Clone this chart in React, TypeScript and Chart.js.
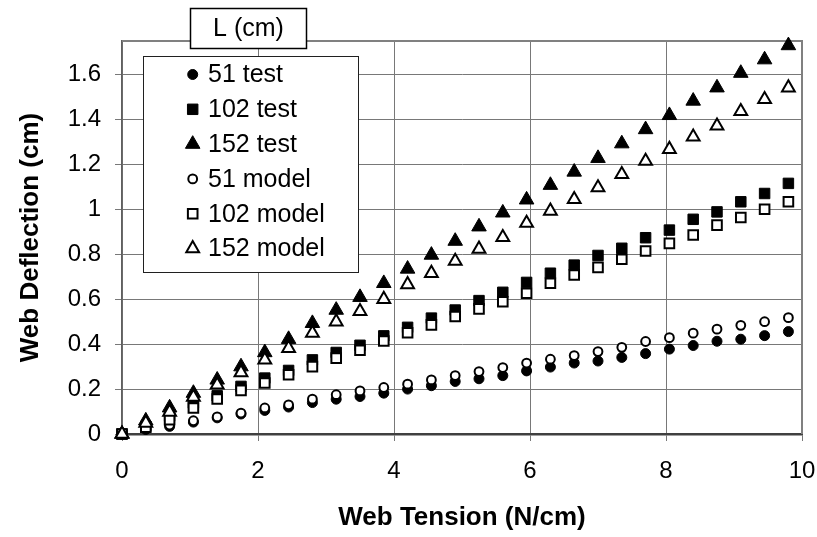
import React, { useEffect, useRef } from 'react';
import { Chart, registerables } from 'chart.js';

Chart.register(...registerables);

// Web tension (N/cm) at each measurement step
const tension = [
  0, 0.35, 0.7, 1.05, 1.4, 1.75, 2.1, 2.45, 2.8, 3.15, 3.5, 3.85, 4.2, 4.55, 4.9,
  5.25, 5.6, 5.95, 6.3, 6.65, 7.0, 7.35, 7.7, 8.05, 8.4, 8.75, 9.1, 9.45, 9.8,
];

// Web deflection (cm), measured
const test51 = [
  0, 0.02, 0.034, 0.053, 0.072, 0.089, 0.105, 0.12, 0.14, 0.155, 0.167, 0.182, 0.2, 0.215, 0.234,
  0.246, 0.26, 0.281, 0.298, 0.316, 0.325, 0.341, 0.358, 0.378, 0.394, 0.413, 0.422, 0.438, 0.456,
];
const test102 = [
  0, 0.034, 0.08, 0.138, 0.17, 0.212, 0.249, 0.283, 0.33, 0.363, 0.395, 0.437, 0.475, 0.516, 0.552,
  0.594, 0.631, 0.675, 0.716, 0.752, 0.795, 0.827, 0.874, 0.908, 0.956, 0.989, 1.034, 1.071, 1.116,
];
const test152 = [
  0, 0.059, 0.117, 0.182, 0.241, 0.3, 0.363, 0.422, 0.493, 0.552, 0.609, 0.671, 0.735, 0.797, 0.859,
  0.923, 0.985, 1.043, 1.108, 1.167, 1.228, 1.293, 1.356, 1.419, 1.483, 1.542, 1.607, 1.667, 1.73,
];

// Web deflection (cm), model
const model51 = [
  0, 0.025, 0.04, 0.059, 0.076, 0.093, 0.116, 0.13, 0.155, 0.175, 0.192, 0.207, 0.222, 0.241, 0.26,
  0.278, 0.296, 0.316, 0.333, 0.349, 0.367, 0.386, 0.412, 0.429, 0.449, 0.467, 0.484, 0.5, 0.518,
];
const model102 = [
  0, 0.03, 0.064, 0.116, 0.156, 0.194, 0.227, 0.264, 0.3, 0.338, 0.373, 0.414, 0.451, 0.486, 0.523,
  0.557, 0.589, 0.627, 0.671, 0.708, 0.742, 0.778, 0.815, 0.849, 0.886, 0.93, 0.964, 1.001, 1.034,
];
const model152 = [
  0, 0.049, 0.098, 0.164, 0.219, 0.274, 0.33, 0.382, 0.449, 0.5, 0.546, 0.6, 0.666, 0.716, 0.77,
  0.824, 0.876, 0.939, 0.993, 1.045, 1.097, 1.156, 1.215, 1.268, 1.323, 1.372, 1.437, 1.49, 1.542,
];

const xTicks = [0, 2, 4, 6, 8, 10];
const yTicks = [0, 0.2, 0.4, 0.6, 0.8, 1, 1.2, 1.4, 1.6];

const seriesLabels = ['51 test', '102 test', '152 test', '51 model', '102 model', '152 model'];
const legendTitle = 'L (cm)';
const xTitle = 'Web Tension (N/cm)';
const yTitle = 'Web Deflection (cm)';

const FONT = "'Liberation Sans', Arial, sans-serif";

type Marker = { style: 'circle' | 'rect' | 'triangle'; filled: boolean; radius: number };

const markers: Marker[] = [
  { style: 'circle', filled: true, radius: 5 },
  { style: 'rect', filled: true, radius: 7.4 },
  { style: 'triangle', filled: true, radius: 8.4 },
  { style: 'circle', filled: false, radius: 4.4 },
  { style: 'rect', filled: false, radius: 6.8 },
  { style: 'triangle', filled: false, radius: 7.4 },
];

const seriesValues = [test51, test102, test152, model51, model102, model152];

function drawMarker(ctx: CanvasRenderingContext2D, m: Marker, x: number, y: number) {
  ctx.save();
  ctx.beginPath();
  const r = m.radius;
  if (m.style === 'circle') {
    ctx.arc(x, y, r, 0, Math.PI * 2);
  } else if (m.style === 'rect') {
    const s = Math.SQRT1_2 * r;
    ctx.rect(x - s, y - s, 2 * s, 2 * s);
  } else {
    let a = 0;
    ctx.moveTo(x + Math.sin(a) * r, y - Math.cos(a) * r);
    a += (2 * Math.PI) / 3;
    ctx.lineTo(x + Math.sin(a) * r, y - Math.cos(a) * r);
    a += (2 * Math.PI) / 3;
    ctx.lineTo(x + Math.sin(a) * r, y - Math.cos(a) * r);
    ctx.closePath();
  }
  ctx.fillStyle = m.filled ? '#000' : '#fff';
  ctx.fill();
  ctx.strokeStyle = '#000';
  ctx.lineWidth = m.filled ? 1 : 2;
  ctx.stroke();
  ctx.restore();
}

const frameAndLegend = {
  id: 'frameAndLegend',
  beforeDatasetsDraw(chart: any) {
    const { ctx, chartArea: a } = chart;
    ctx.save();
    ctx.strokeStyle = '#808080';
    ctx.lineWidth = 2;
    ctx.beginPath();
    ctx.moveTo(a.left, a.top);
    ctx.lineTo(a.right, a.top);
    ctx.lineTo(a.right, a.bottom);
    ctx.stroke();
    ctx.restore();
  },
  afterDraw(chart: any) {
    const { ctx } = chart;
    ctx.save();
    // legend panel
    ctx.fillStyle = '#fff';
    ctx.fillRect(143.5, 56.5, 215, 216);
    ctx.strokeStyle = '#202020';
    ctx.lineWidth = 1;
    ctx.strokeRect(143.5, 56.5, 215, 216);
    // legend heading box
    ctx.fillRect(190.5, 8.5, 116, 40);
    ctx.strokeStyle = '#000';
    ctx.lineWidth = 1.5;
    ctx.strokeRect(190.5, 8.5, 116, 40);
    ctx.fillStyle = '#000';
    ctx.font = `25px ${FONT}`;
    ctx.textBaseline = 'middle';
    ctx.textAlign = 'center';
    ctx.fillText(legendTitle, 248.5, 29);
    ctx.textAlign = 'left';
    seriesLabels.forEach((label, i) => {
      const y = 74.5 + 34.8 * i;
      drawMarker(ctx, markers[i], 192.7, y);
      ctx.fillStyle = '#000';
      ctx.fillText(label, 208, y + 1);
    });
    ctx.restore();
  },
};

export default function App() {
  const ref = useRef<HTMLCanvasElement>(null);

  useEffect(() => {
    if (!ref.current) return;
    Chart.defaults.font.family = FONT;
    const datasets = seriesValues.map((vals, i) => {
      const m = markers[i];
      return {
        label: seriesLabels[i],
        data: tension.map((x, j) => ({ x, y: vals[j] })),
        showLine: false,
        clip: false,
        pointStyle: m.style,
        pointRadius: m.radius,
        pointHoverRadius: m.radius,
        pointBackgroundColor: m.filled ? '#000' : '#fff',
        pointBorderColor: '#000',
        pointBorderWidth: m.filled ? 1 : 2,
        // later series sit on top
        order: seriesValues.length - 1 - i,
      };
    });

    const chart = new Chart(ref.current, {
      type: 'scatter',
      data: { datasets },
      plugins: [frameAndLegend],
      options: {
        responsive: false,
        animation: false,
        layout: { padding: { top: 41, right: 15, left: 0, bottom: 0 } },
        plugins: { legend: { display: false }, tooltip: { enabled: false } },
        scales: {
          x: {
            type: 'linear',
            min: 0,
            max: 10,
            afterBuildTicks: (s: any) => {
              s.ticks = xTicks.map((v) => ({ value: v }));
            },
            afterFit: (s: any) => {
              s.height = 103;
              s.paddingLeft = 0;
              s.paddingRight = 0;
            },
            ticks: {
              color: '#000',
              font: { size: 24, family: FONT },
              padding: 16,
              maxRotation: 0,
              autoSkip: false,
              callback: (v: any) => String(+Number(v).toFixed(1)),
            },
            grid: { color: '#787878', lineWidth: 1, tickLength: 7 },
            border: { color: '#404040', width: 2.5 },
            title: {
              display: true,
              text: xTitle,
              color: '#000',
              font: { size: 26, weight: 'bold', family: FONT },
              padding: { top: 0, bottom: 4 },
            },
          },
          y: {
            type: 'linear',
            min: 0,
            max: 1.75,
            afterBuildTicks: (s: any) => {
              s.ticks = yTicks.map((v) => ({ value: v }));
            },
            afterFit: (s: any) => {
              s.width = 122;
              s.paddingTop = 0;
              s.paddingBottom = 0;
            },
            ticks: {
              color: '#000',
              font: { size: 24, family: FONT },
              padding: 14,
              autoSkip: false,
              callback: (v: any) => String(+Number(v).toFixed(1)),
            },
            grid: { color: '#787878', lineWidth: 1, tickLength: 7 },
            border: { color: '#606060', width: 1.5 },
            title: {
              display: true,
              text: yTitle,
              color: '#000',
              font: { size: 26, weight: 'bold', family: FONT },
              padding: { top: 15, bottom: 0 },
            },
          },
        },
      },
    } as any);
    return () => chart.destroy();
  }, []);

  return (
    <div style={{ position: 'fixed', left: 0, top: 0, width: 817, height: 537, background: '#fff' }}>
      <canvas ref={ref} width={817} height={537} style={{ display: 'block' }} />
    </div>
  );
}
